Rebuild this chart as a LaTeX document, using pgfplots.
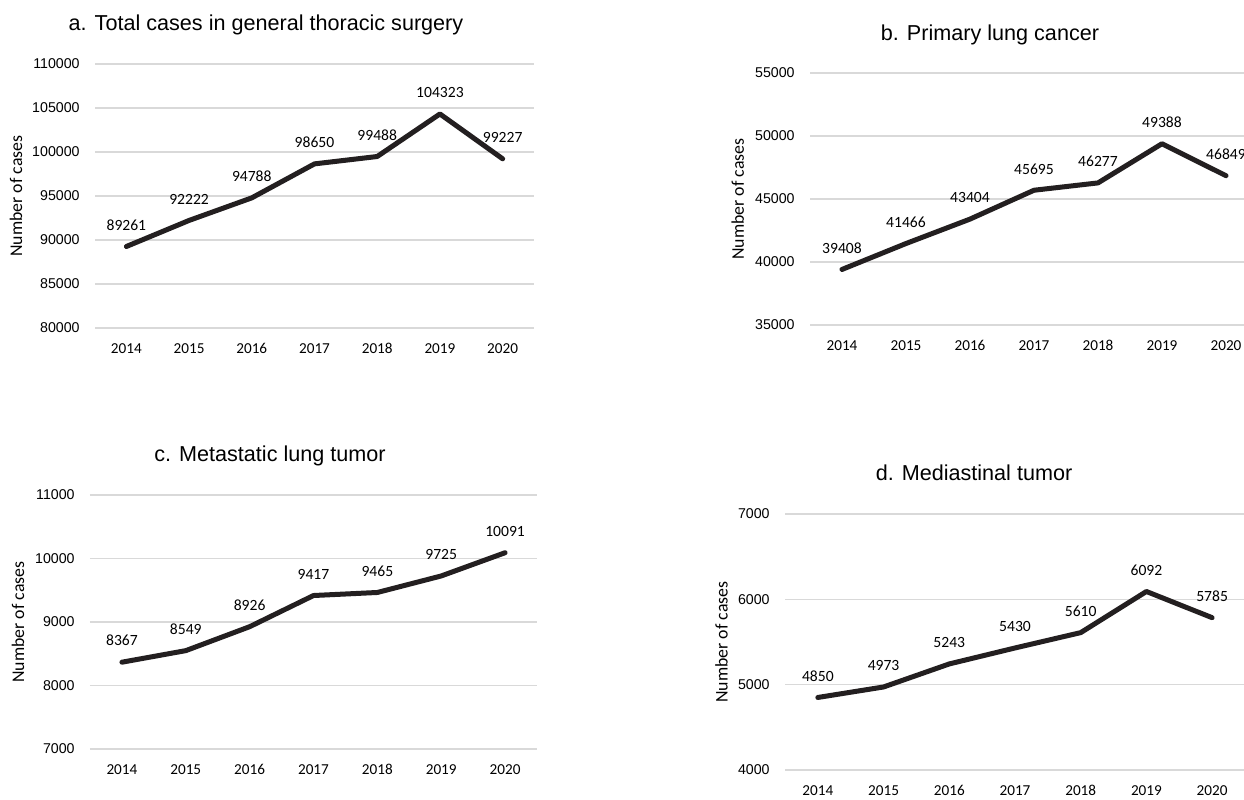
\documentclass[border=0pt]{standalone}
\usepackage{fontspec}
\setmainfont{Carlito}
\newfontfamily\arial{Liberation Sans}
\usepackage{pgfplots}
\pgfplotsset{compat=1.18}

\definecolor{lineblack}{RGB}{35,31,32}
\definecolor{gridgray}{RGB}{217,217,217}

\pgfplotsset{
  panel/.style={
    scale only axis, clip=false,
    anchor=south west,
    xmin=-0.5, xmax=6.5,
    xtick={0,...,6},
    xticklabels={2014,2015,2016,2017,2018,2019,2020},
    axis line style={draw=none},
    major tick length=0pt,
    ymajorgrids,
    grid style={draw=gridgray, line width=0.6pt},
    /pgf/number format/assume math mode=true,
    /pgf/number format/fixed,
    /pgf/number format/precision=0,
    /pgf/number format/1000 sep={},
    scaled y ticks=false,
    yticklabel style={font=\arial\fontsize{7.1}{8}\selectfont, anchor=east, inner sep=0pt, xshift=-7.5pt},
    xticklabel style={font=\fontsize{7.6}{8}\selectfont, anchor=north, inner sep=0pt, yshift=-7.6pt},
    ylabel={Number of cases},
    ylabel style={font=\fontsize{8.9}{10}\selectfont, anchor=center},
    nodes near coords,
    nodes near coords style={font=\fontsize{7.8}{9}\selectfont, anchor=south, inner sep=0pt, yshift=6.8pt, text=black},
  },
  trend/.style={lineblack, line width=2.5pt, line join=round, line cap=round, mark=none},
}

\begin{document}
\begin{tikzpicture}
\useasboundingbox (0,0) rectangle (622pt,399.5pt);

% a. total cases
\begin{axis}[panel, at={(47.5pt,235.5pt)}, width=219.5pt, height=132pt,
  ymin=80000, ymax=110000, ytick={80000,85000,...,110000},
  ylabel style={at={(axis description cs:-0.180,0.5)}}]
\addplot[trend] coordinates {
  (0,89261) (1,92222) (2,94788) (3,98650) (4,99488) (5,104323) (6,99227)
};
\end{axis}

% b. primary lung cancer
\begin{axis}[panel, at={(405pt,237pt)}, width=224pt, height=126pt,
  ymin=35000, ymax=55000, ytick={35000,40000,...,55000},
  ylabel style={at={(axis description cs:-0.161,0.5)}}]
\addplot[trend] coordinates {
  (0,39408) (1,41466) (2,43404) (3,45695) (4,46277) (5,49388) (6,46849)
};
\end{axis}

% c. metastatic lung tumor
\begin{axis}[panel, at={(45pt,25pt)}, width=223.5pt, height=127pt,
  ymin=7000, ymax=11000, ytick={7000,8000,...,11000},
  ylabel style={at={(axis description cs:-0.161,0.5)}}]
\addplot[trend] coordinates {
  (0,8367) (1,8549) (2,8926) (3,9417) (4,9465) (5,9725) (6,10091)
};
\end{axis}

% d. mediastinal tumor
\begin{axis}[panel, at={(392.5pt,14.5pt)}, width=230pt, height=128pt,
  ymin=4000, ymax=7000, ytick={4000,5000,...,7000},
  ylabel style={at={(axis description cs:-0.138,0.5)}}]
\addplot[trend] coordinates {
  (0,4850) (1,4973) (2,5243) (3,5430) (4,5610) (5,6092) (6,5785)
};
\end{axis}

% panel titles
\begin{scope}[every node/.style={font=\arial\fontsize{10.8}{12}\selectfont, anchor=center}]
\node at (133pt,387pt) {a. Total cases in general thoracic surgery};
\node at (495pt,382pt) {b. Primary lung cancer};
\node at (135pt,171.5pt) {c. Metastatic lung tumor};
\node at (487pt,163pt) {d. Mediastinal tumor};
\end{scope}
\end{tikzpicture}
\end{document}
